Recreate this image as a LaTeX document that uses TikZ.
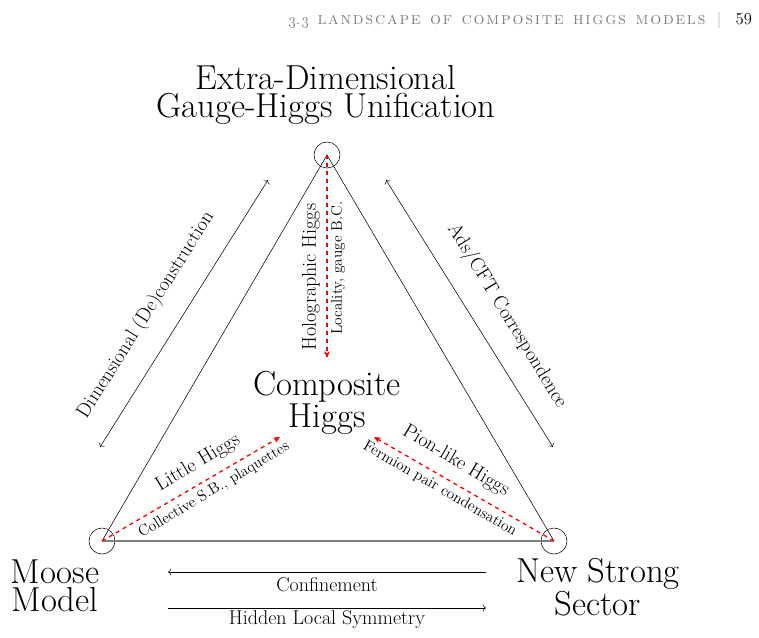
\documentclass[tikz,border=0pt]{standalone}
\usetikzlibrary{arrows.meta}

% letter-spaced small caps for the running head
\def\spreadaux#1{\ifx\relax#1\else#1\kern1.3pt\expandafter\spreadaux\fi}
\newcommand{\spreadword}[1]{\spreadaux#1\relax}
\newcommand{\hdrgap}{\hspace{0.45em}}

\begin{document}
\begin{tikzpicture}[x=0.75pt, y=-0.75pt,
    vertex/.style={draw, circle, minimum size=19.5pt, inner sep=0pt},
    bigtext/.style={align=center, font=\fontsize{26}{21}\selectfont},
    midtext/.style={font=\fontsize{15}{17}\selectfont},
    smalltext/.style={font=\fontsize{11.5}{13}\selectfont},
    higgsflow/.style={red, dashed, line width=1pt, -{Stealth[length=5pt, width=4.5pt, inset=1.5pt]}}]
    \useasboundingbox (0, 0) rectangle (759, 637);

    % page header
    \node[anchor=base east, text=gray, font=\fontsize{13}{14}\selectfont\scshape] (hdrText) at (712, 24) {\oldstylenums{3.3}\enspace\spreadword{landscape}\hdrgap\spreadword{of}\hdrgap\spreadword{composite}\hdrgap\spreadword{higgs}\hdrgap\spreadword{models}};
    \node[anchor=base, text=gray!70, font=\fontsize{12}{13}\selectfont] (hdrBar) at (719, 24) {|};
    \node[anchor=base west, font=\fontsize{12.5}{13}\selectfont] (pageNum) at (731, 24) {59};

    % corners
    \node[vertex] (vExtra) at (327, 155) {};
    \node[vertex] (vMoose) at (102, 541) {};
    \node[vertex] (vStrong) at (554, 541) {};
    \draw (vMoose.center) -- (vExtra.center) -- (vStrong.center);
    \draw[gray, line width=1.1pt] (vMoose.center) -- (vStrong.center);

    \node[bigtext] (extraLabel) at (326, 95) {Extra-Dimensional\\Gauge-Higgs Unification};
    \node[bigtext] (mooseLabel) at (55, 586) {Moose\\Model};
    \node[bigtext] (strongLabel) at (598, 587) {New Strong\\Sector};
    \node[bigtext] (compLabel) at (327, 403) {Composite\\Higgs};

    % dualities between the corners
    \coordinate (dimTop) at (268, 180);
    \coordinate (dimBot) at (100, 447);
    \coordinate (adsTop) at (386, 180);
    \coordinate (adsBot) at (553, 447);
    \coordinate (confR) at (486, 572);
    \coordinate (confL) at (168, 572);
    \coordinate (hlsL) at (168, 608);
    \coordinate (hlsR) at (486, 608);
    \draw[<->] (dimTop) -- (dimBot);
    \draw[<->] (adsTop) -- (adsBot);
    \draw[->] (confR) -- (confL);
    \draw[->] (hlsL) -- (hlsR);
    \node[midtext, rotate=57.8] (dimLabel) at (146, 315) {Dimensional (De)construction};
    \node[midtext, rotate=-58.5] (adsLabel) at (507, 316) {Ads/CFT Correspondence};
    \node[midtext] (confLabel) at (327, 585) {Confinement};
    \node[midtext] (hlsLabel) at (327, 620) {Hidden Local Symmetry};

    % routes to a composite Higgs
    \coordinate (holoEnd) at (327, 358);
    \coordinate (littleEnd) at (280, 437);
    \coordinate (pionEnd) at (374, 437);
    \draw[higgsflow] (vExtra.center) -- (holoEnd);
    \draw[higgsflow] (vMoose.center) -- (littleEnd);
    \draw[higgsflow] (vStrong.center) -- (pionEnd);
    \node[midtext, rotate=90] (holoLabel) at (311, 277) {Holographic Higgs};
    \node[smalltext, rotate=90] (holoSub) at (338, 268) {Locality, gauge B.C.};
    \node[midtext, rotate=31] (littleLabel) at (198, 463) {Little Higgs};
    \node[smalltext, rotate=31] (littleSub) at (214, 490) {Collective S.B., plaquettes};
    \node[midtext, rotate=-31] (pionLabel) at (456, 461) {Pion-like Higgs};
    \node[smalltext, rotate=-30] (pionSub) at (440, 489) {Fermion pair condensation};
\end{tikzpicture}
\end{document}
